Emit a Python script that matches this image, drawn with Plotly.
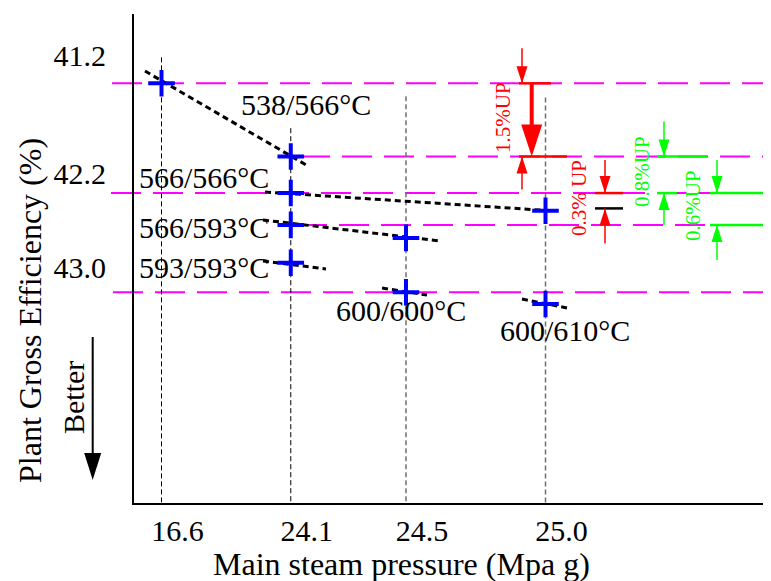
import plotly.graph_objects as go

# ---------------- data ----------------
pressure_labels = ["16.6", "24.1", "24.5", "25.0"]
pressure_pos = [1.0, 2.01, 2.91, 4.0]          # schematic positions on x axis
guide_top = [41.22, 41.82, 41.55, 41.56]        # top of the vertical guide lines

eff_ticks = [41.2, 42.2, 43.0]
eff_tick_text = ["41.2", "42.2", "43.0"]

# steam conditions: x positions and efficiencies of the plotted points
c538_566_x, c538_566_eff = [1.0, 2.01], [41.44, 42.06]
c566_566_x, c566_566_eff = [2.01, 4.0], [42.37, 42.52]
c566_593_x, c566_593_eff = [2.01, 2.91], [42.64, 42.75]
c593_593_x, c593_593_eff = [2.01], [42.96]
c600_600_x, c600_600_eff = [2.91], [43.21]
c600_610_x, c600_610_eff = [4.0], [43.31]

# dotted trend segments (start / end)
t538_566_x, t538_566_eff = [0.871, 2.145], [41.336, 42.141]
t566_566_x, t566_566_eff = [1.809, 4.074], [42.361, 42.522]
t566_593_x, t566_593_eff = [1.793, 3.176], [42.598, 42.776]
t593_593_x, t593_593_eff = [1.793, 2.285], [42.946, 43.014]
t600_600_x, t600_600_eff = [2.723, 3.074], [43.175, 43.234]
t600_610_x, t600_610_eff = [3.816, 4.168], [43.268, 43.344]

# magenta reference levels
ref_levels = [41.44, 42.06, 42.37, 42.64, 43.21]
ref_start_px = [112, 300, 111, 297, 113]

cond_labels = ["538/566°C", "566/566°C", "566/593°C", "593/593°C", "600/600°C", "600/610°C"]

# improvement markers: label, upper level, lower level
up_labels = ["1.5%UP", "0.3% UP", "0.8%UP", "0.6%UP"]
up_top = [41.44, 42.37, 42.06, 42.37]
up_bot = [42.06, 42.50, 42.37, 42.64]

# ---------------- layout helpers ----------------
# the page body adds an 8px offset, so the figure is 8px smaller than the window
OFF = 8
W, H = 771 - OFF, 581 - OFF
PL, PR, PT, PB = 134, 771, 14, 503        # plot area edges in window pixels
L, R, T, B = PL - OFF, 0, PT - OFF, H - (PB - OFF)
X0_PX, PX_PER_X = 161.5, 128.0
Y0_PX, PX_PER_Y = 55.0, 118.0


def xd(px):
    return 1 + (px - X0_PX) / PX_PER_X


def yd(py):
    return 41.2 + (py - Y0_PX) / PX_PER_Y


def xp(px):  # paper x
    return (px - PL) / (PR - PL)


def ypx(v):  # data -> pixel
    return Y0_PX + (v - 41.2) * PX_PER_Y


FONT = "Liberation Serif"
RED, GREEN, MAG, BLUE = "#ff0000", "#00ff00", "#ff00ff", "#0000ff"

fig = go.Figure()
shapes = []
ann = []

# vertical guide lines
ybot = yd(PB)
for i, (x, top) in enumerate(zip(pressure_pos, guide_top)):
    col = "#000000" if i < 2 else "#707070"
    wid = 1 if i < 2 else 1.5
    fig.add_trace(go.Scatter(x=[x, x], y=[top, ybot], mode="lines",
                             line=dict(color=col, width=wid, dash="5px,3px"),
                             hoverinfo="skip", showlegend=False))

# magenta dashed reference lines
for lv, sp in zip(ref_levels, ref_start_px):
    shapes.append(dict(type="line", xref="paper", yref="y", x0=xp(sp), x1=xp(770),
                       y0=lv, y1=lv, layer="below",
                       line=dict(color=MAG, width=2, dash="30px,12px")))

# trend segments
for tx, ty in [(t538_566_x, t538_566_eff), (t566_566_x, t566_566_eff),
               (t566_593_x, t566_593_eff), (t593_593_x, t593_593_eff),
               (t600_600_x, t600_600_eff), (t600_610_x, t600_610_eff)]:
    fig.add_trace(go.Scatter(x=tx, y=ty, mode="lines",
                             line=dict(color="black", width=3, dash="6px,4px"),
                             hoverinfo="skip", showlegend=False))

# points
px_all = c538_566_x + c566_566_x + c566_593_x + c593_593_x + c600_600_x + c600_610_x
py_all = c538_566_eff + c566_566_eff + c566_593_eff + c593_593_eff + c600_600_eff + c600_610_eff
fig.add_trace(go.Scatter(x=px_all, y=py_all, mode="markers",
                         marker=dict(symbol="cross-thin", size=19,
                                     line=dict(color=BLUE, width=4)),
                         showlegend=False, cliponaxis=False))

# condition labels
label_pos = [(306, 104, "center"), (137, 177, "left"), (137, 227, "left"),
             (137, 267, "left"), (401, 310, "center"), (565, 330, "center")]
for txt, (lx, ly, anc) in zip(cond_labels, label_pos):
    ann.append(dict(x=xd(lx), y=yd(ly), xref="x", yref="y", text=txt, showarrow=False,
                    xanchor=anc, yanchor="middle", font=dict(family=FONT, size=30, color="black")))


def hline(px0, px1, v, color, width=2.5):
    shapes.append(dict(type="line", xref="x", yref="y", x0=xd(px0), x1=xd(px1), y0=v, y1=v,
                       line=dict(color=color, width=width)))


def vline(pxx, py0, py1, color, width=1.5):
    shapes.append(dict(type="line", xref="x", yref="y", x0=xd(pxx), x1=xd(pxx),
                       y0=yd(py0), y1=yd(py1), line=dict(color=color, width=width)))


def tri(pxx, apex_py, base_py, half, color):
    path = "M {:.4f},{:.4f} L {:.4f},{:.4f} L {:.4f},{:.4f} Z".format(
        xd(pxx), yd(apex_py), xd(pxx - half), yd(base_py), xd(pxx + half), yd(base_py))
    shapes.append(dict(type="path", xref="x", yref="y", path=path,
                       fillcolor=color, line=dict(color=color, width=0)))


def small_arrows(pxx, v_top, v_bot, color, len_top, len_bot):
    pt, pb = ypx(v_top), ypx(v_bot)
    vline(pxx, pt - len_top, pt, color)
    tri(pxx, pt, pt - 17, 5.5, color)
    vline(pxx, pb + len_bot, pb, color)
    tri(pxx, pb, pb + 17, 5.5, color)


# 1.5% UP (red, big arrow)
pt, pb = ypx(up_top[0]), ypx(up_bot[0])
hline(519, 551, up_top[0], RED)
hline(519, 567, up_bot[0], RED)
vline(531.7, pt, pb - 30, RED, width=4)
tri(531.7, pb, pb - 32, 10.5, RED)
small_arrows(522, up_top[0], up_bot[0], RED, 35, 33)
ann.append(dict(x=xd(503), y=yd(118), text=up_labels[0], textangle=-90))

# 0.3% UP (red, lower cap black)
hline(595, 623, up_top[1], RED)
hline(595, 623, up_bot[1], "black")
small_arrows(605, up_top[1], up_bot[1], RED, 33, 35)
ann.append(dict(x=xd(579), y=yd(198), text=up_labels[1], textangle=-90))

# 0.8% UP (green)
hline(657, 707, up_top[2], GREEN)
hline(657, 677, up_bot[2], GREEN)
small_arrows(664, up_top[2], up_bot[2], GREEN, 35, 32)
ann.append(dict(x=xd(642), y=yd(172), text=up_labels[2], textangle=-90))

# 0.6% UP (green)
hline(710, 763, up_top[3], GREEN)
hline(710, 763, up_bot[3], GREEN)
small_arrows(717, up_top[3], up_bot[3], GREEN, 33, 35)
ann.append(dict(x=xd(693), y=yd(206), text=up_labels[3], textangle=-90))

for a, col in zip(ann[-4:], [RED, RED, GREEN, GREEN]):
    a.update(xref="x", yref="y", showarrow=False, xanchor="center", yanchor="middle",
             font=dict(family=FONT, size=21, color=col))

# axis titles and "Better" arrow
ann.append(dict(x=xp(30), y=yd(311), xref="paper", yref="y", text="Plant Gross Efficiency (%)",
                textangle=-90, showarrow=False, xanchor="center", yanchor="middle",
                font=dict(family=FONT, size=32, color="black")))
ann.append(dict(x=xd(401), y=(PB - 564) / (PB - PT), xref="x", yref="paper",
                text="Main steam pressure (Mpa g)", showarrow=False,
                xanchor="center", yanchor="middle", font=dict(family=FONT, size=32, color="black")))
ann.append(dict(x=xp(73), y=yd(398), xref="paper", yref="y", text="Better", textangle=-90,
                showarrow=False, xanchor="center", yanchor="middle",
                font=dict(family=FONT, size=30, color="black")))
shapes.append(dict(type="line", xref="paper", yref="y", x0=xp(92.7), x1=xp(92.7),
                   y0=yd(337), y1=yd(456), line=dict(color="black", width=2)))
shapes.append(dict(type="path", xref="paper", yref="y",
                   path="M {:.5f},{:.4f} L {:.5f},{:.4f} L {:.5f},{:.4f} Z".format(
                       xp(92.7), yd(480), xp(84.2), yd(453), xp(101.2), yd(453)),
                   fillcolor="black", line=dict(color="black", width=0)))

fig.update_layout(
    width=W, height=H,
    margin=dict(l=L, r=R, t=T, b=B, pad=0),
    paper_bgcolor="white", plot_bgcolor="white",
    showlegend=False,
    shapes=shapes, annotations=ann,
    font=dict(family=FONT, color="black"),
)
fig.update_xaxes(range=[xd(PL), xd(PR)], tickvals=pressure_pos, ticktext=pressure_labels,
                 showgrid=False, zeroline=False, showline=True, linecolor="black", linewidth=2,
                 ticks="", ticklabelshift=16, ticklabelstandoff=0,
                 tickfont=dict(family=FONT, size=30, color="black"))
fig.update_yaxes(range=[yd(PB), yd(PT)], tickvals=eff_ticks, ticktext=eff_tick_text,
                 showgrid=False, zeroline=False, showline=True, linecolor="black", linewidth=2,
                 ticks="", ticklabelstandoff=20,
                 tickfont=dict(family=FONT, size=30, color="black"))

fig.write_html("out.html")
